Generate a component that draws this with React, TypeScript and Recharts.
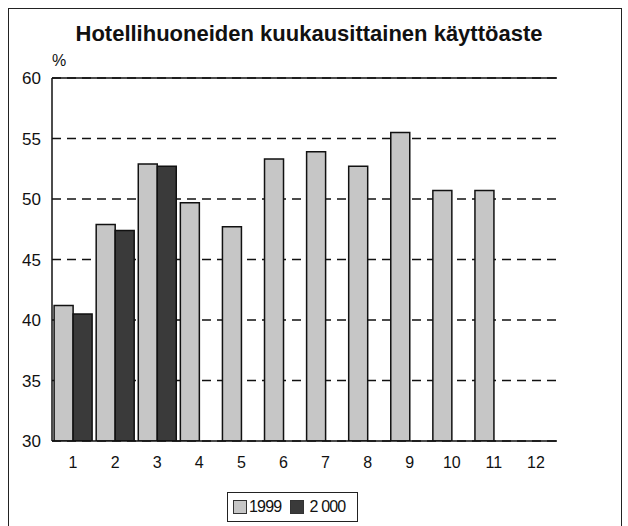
import { BarChart, Bar, XAxis, YAxis, CartesianGrid, ReferenceLine } from 'recharts';

const months = ['1', '2', '3', '4', '5', '6', '7', '8', '9', '10', '11', '12'];
const values1999 = [41.2, 47.9, 52.9, 49.7, 47.7, 53.3, 53.9, 52.7, 55.5, 50.7, 50.7, null];
const values2000 = [40.5, 47.4, 52.7, null, null, null, null, null, null, null, null, null];
const yTicks = [30, 35, 40, 45, 50, 55, 60];

const data = months.map((m, i) => ({ month: m, y1999: values1999[i], y2000: values2000[i] }));

const sans = '"Liberation Sans", Arial, sans-serif';

export default function App() {
  return (
    <div style={{ position: 'absolute', left: 0, top: 0, width: 628, height: 526, background: '#fff', overflow: 'hidden' }}>
      {/* outer frame */}
      <div style={{ position: 'absolute', left: 8, top: 8, width: 612, height: 530, border: '1.5px solid #222' }} />
      <div
        style={{
          position: 'absolute', left: 0, width: 618, top: 21, textAlign: 'center',
          fontFamily: sans, fontWeight: 'bold', fontSize: 22, color: '#111', whiteSpace: 'nowrap',
        }}
      >
        Hotellihuoneiden kuukausittainen käyttöaste
      </div>
      <div style={{ position: 'absolute', left: 52, top: 52, fontFamily: sans, fontSize: 16, color: '#111' }}>%</div>
      <div style={{ position: 'absolute', left: 0, top: 0 }}>
        <BarChart
          width={628}
          height={526}
          data={data}
          margin={{ top: 78, right: 71, left: 0, bottom: 55 }}
          barCategoryGap="5%"
          barGap={0}
        >
          <CartesianGrid vertical={false} stroke="#111" strokeWidth={1.4} strokeDasharray="9 6" />
          <XAxis
            dataKey="month"
            height={30}
            tickLine={false}
            tickMargin={10}
            axisLine={{ stroke: '#111', strokeWidth: 1.5 }}
            tick={{ fill: '#111', fontSize: 16, fontFamily: sans }}
            interval={0}
          />
          <YAxis
            domain={[30, 60]}
            ticks={yTicks}
            width={52}
            tickLine={false}
            tickMargin={5}
            axisLine={{ stroke: '#111', strokeWidth: 1.5 }}
            tick={{ fill: '#111', fontSize: 17, fontFamily: sans }}
            allowDataOverflow
          />
          <YAxis
            yAxisId="r"
            orientation="right"
            domain={[30, 60]}
            width={0}
            tick={false}
            tickLine={false}
            axisLine={{ stroke: '#777', strokeWidth: 1 }}
          />
          <ReferenceLine y={60} stroke="#111" strokeWidth={1.5} />
          <Bar dataKey="y1999" fill="#c6c6c6" stroke="#111" strokeWidth={1.5} isAnimationActive={false} />
          <Bar dataKey="y2000" fill="#3a3a3a" stroke="#111" strokeWidth={1.5} isAnimationActive={false} />
        </BarChart>
      </div>
      {/* legend */}
      <div
        style={{
          position: 'absolute', left: 227, top: 492, width: 131, height: 30, boxSizing: 'border-box',
          border: '1.3px solid #222', display: 'flex', alignItems: 'center', paddingLeft: 5,
          fontFamily: sans, fontSize: 16, letterSpacing: -0.8, color: '#111', whiteSpace: 'nowrap',
        }}
      >
        <span style={{ width: 12, height: 12, background: '#c6c6c6', border: '1px solid #333', marginRight: 2, flexShrink: 0 }} />
        <span style={{ marginRight: 9 }}>1999</span>
        <span style={{ width: 12, height: 12, background: '#3a3a3a', border: '1px solid #333', marginRight: 5, flexShrink: 0 }} />
        <span>2 000</span>
      </div>
    </div>
  );
}
